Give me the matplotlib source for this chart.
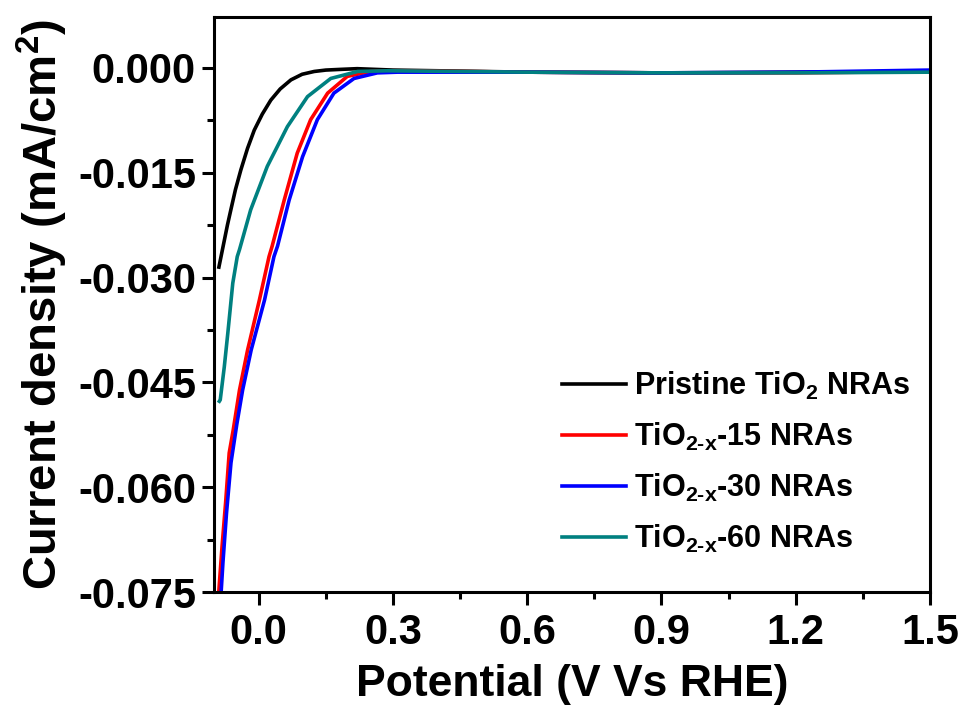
import matplotlib
matplotlib.use('Agg')
import matplotlib.pyplot as plt
from matplotlib.ticker import MultipleLocator

plt.rcParams['font.family'] = ['Liberation Sans', 'DejaVu Sans']
plt.rcParams['font.weight'] = 'bold'
plt.rcParams['mathtext.fontset'] = 'custom'
plt.rcParams['mathtext.rm'] = 'Liberation Sans:bold'
plt.rcParams['mathtext.it'] = 'Liberation Sans:bold'
plt.rcParams['mathtext.bf'] = 'Liberation Sans:bold'
plt.rcParams['mathtext.default'] = 'rm'

# potential (V vs RHE) and current density (mA/cm2)
x_pristine = [-0.089, -0.070, -0.063, -0.052, -0.040, -0.025, -0.010, 0.008, 0.027,
              0.048, 0.072, 0.097, 0.124, 0.150, 0.183, 0.220, 0.260, 0.300,
              0.600, 0.900, 1.200, 1.500]
y_pristine = [-0.0285, -0.0225, -0.0205, -0.0174, -0.0146, -0.0115, -0.0089, -0.0066,
              -0.0046, -0.0030, -0.0017, -0.0009, -0.0005, -0.0003, -0.0002, -0.0001,
              -0.0002, -0.0003, -0.0006, -0.0007, -0.0006, -0.0005]

x_15 = [-0.089, -0.082, -0.074, -0.066, -0.057, -0.043, -0.025, 0.0015, 0.023,
        0.030, 0.057, 0.086, 0.116, 0.154, 0.198, 0.250, 0.300, 0.600, 0.900,
        1.200, 1.500]
y_15 = [-0.0747, -0.0685, -0.0622, -0.0551, -0.0518, -0.0461, -0.0404, -0.0332,
        -0.0270, -0.0255, -0.0189, -0.0122, -0.0074, -0.0036, -0.0012, -0.0005,
        -0.0004, -0.0006, -0.0007, -0.0007, -0.0005]

x_30 = [-0.084, -0.080, -0.072, -0.062, -0.049, -0.036, -0.017, 0.013, 0.034,
        0.042, 0.068, 0.098, 0.131, 0.168, 0.213, 0.265, 0.310, 0.600, 0.900,
        1.200, 1.500]
y_30 = [-0.0750, -0.0708, -0.0637, -0.0565, -0.0510, -0.0461, -0.0404, -0.0332,
        -0.0270, -0.0255, -0.0189, -0.0127, -0.0074, -0.0036, -0.0015, -0.0007,
        -0.0006, -0.0006, -0.0007, -0.0006, -0.0003]

x_60 = [-0.088, -0.086, -0.077, -0.069, -0.058, -0.048, -0.043, -0.018, 0.019,
        0.064, 0.109, 0.161, 0.221, 0.288, 0.600, 0.900, 1.200, 1.500]
y_60 = [-0.0477, -0.0475, -0.0428, -0.0379, -0.0308, -0.0270, -0.0260, -0.0203,
        -0.0141, -0.0084, -0.0041, -0.0015, -0.0005, -0.0004, -0.0006, -0.0007,
        -0.0007, -0.0006]

labels = ['Pristine TiO$_2$ NRAs', 'TiO$_{2\u2010x}$-15 NRAs',
          'TiO$_{2\u2010x}$-30 NRAs', 'TiO$_{2\u2010x}$-60 NRAs']
colors = ['black', '#ff0000', '#0000ff', '#008080']

fig = plt.figure(figsize=(9.63, 7.13), dpi=100)
ax = fig.add_axes([0.2222, 0.1697, 0.7435, 0.8065])

series = [(x_pristine, y_pristine), (x_15, y_15), (x_30, y_30), (x_60, y_60)]
for (xs, ys), lab, c in zip(series, labels, colors):
    ax.plot(xs, ys, color=c, lw=2.6, label=lab, solid_joinstyle='round')

ax.set_xlim(-0.1, 1.5)
ax.set_ylim(-0.075, 0.0073)
ax.xaxis.set_major_locator(MultipleLocator(0.3))
ax.xaxis.set_minor_locator(MultipleLocator(0.15))
ax.yaxis.set_major_locator(MultipleLocator(0.015))
ax.yaxis.set_minor_locator(MultipleLocator(0.0075))
ax.xaxis.set_major_formatter(plt.FuncFormatter(lambda v, p: '%.1f' % v))
ax.yaxis.set_major_formatter(plt.FuncFormatter(lambda v, p: '%.3f' % v))

for s in ax.spines.values():
    s.set_linewidth(2.2)
ax.tick_params(which='major', direction='out', length=9, width=2.2, labelsize=30, pad=4)
ax.tick_params(which='minor', direction='out', length=5, width=2.2)
ax.tick_params(axis='x', pad=6)
for t in ax.get_xticklabels() + ax.get_yticklabels():
    t.set_fontweight('bold')

ax.set_xlabel('Potential (V Vs RHE)', fontsize=32, fontweight='bold', labelpad=8)
ax.set_ylabel('Current density (mA/cm$^2$)', fontsize=34, fontweight='bold', labelpad=6)

ax.legend(loc='upper left', bbox_to_anchor=(0.486, 0.386), frameon=False,
          fontsize=22, handlelength=2.1, handletextpad=0.25, labelspacing=0.62,
          borderpad=0, borderaxespad=0)

fig.savefig('out.png', dpi=100)
